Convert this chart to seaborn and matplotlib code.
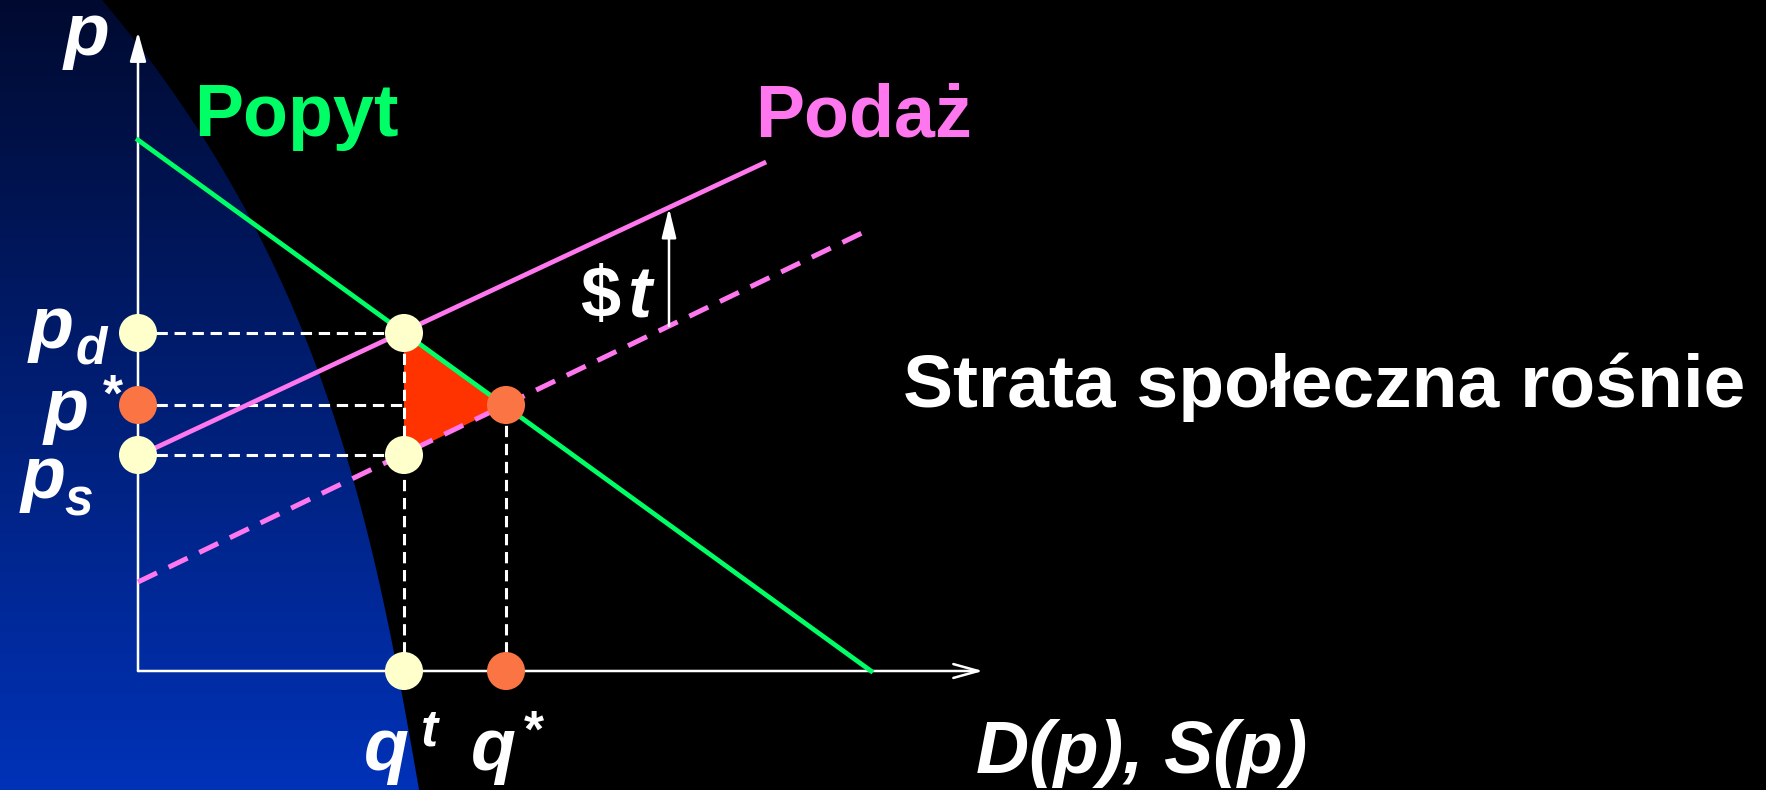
import matplotlib
matplotlib.use("Agg")
import matplotlib.pyplot as plt
from matplotlib.colors import LinearSegmentedColormap
from matplotlib.patches import Polygon
import seaborn as sns
import numpy as np

# dane (jednostki umowne: 1 = 100 px)
demand_q = [0, 7.33]
demand_p = [5.31, 0]
supply_q = [0, 6.26]          # podaz z podatkiem (linia ciagla)
supply_p = [2.15, 5.08]
supply0_q = [0, 7.24]         # podaz bez podatku (linia przerywana)
supply0_p = [0.89, 4.38]

q_t, q_star = 2.66, 3.68
p_d, p_star, p_s = 3.38, 2.66, 2.16
tax_q = 5.31
tax_from, tax_to = 3.45, 4.63

GREEN = "#00ff66"
PINK = "#ff77ee"
CREAM = "#ffffcc"
ORANGE = "#fa7444"
RED = "#ff3300"

plt.rcParams['font.family'] = ['Liberation Sans', 'DejaVu Sans']

fig = plt.figure(figsize=(17.66, 7.90), dpi=100)
fig.patch.set_facecolor("black")

# tlo - niebieski gradient po lewej
bg = fig.add_axes([0, 0, 1, 1])
bg.set_xlim(0, 1766)
bg.set_ylim(790, 0)
bg.axis("off")
grad = np.linspace(0, 1, 256).reshape(-1, 1)
cmap = LinearSegmentedColormap.from_list("bl", ["#000a30", "#0032b8"])
im = bg.imshow(grad, extent=[0, 1766, 790, 0], aspect="auto", cmap=cmap)
by = np.array([0, 83, 150, 233, 317, 400, 500, 671, 790])
bx = np.array([104, 161, 214, 260, 295, 329, 358, 398, 419])
coef = np.polyfit(by, bx, 3)
yy = np.linspace(0, 790, 200)
xx = np.polyval(coef, yy)
poly = Polygon([(0, 0)] + list(zip(xx, yy)) + [(0, 790)], closed=True,
               transform=bg.transData, facecolor="none", edgecolor="none")
bg.add_patch(poly)
im.set_clip_path(poly)

# wykres
ax = fig.add_axes([0, 0, 1, 1])
ax.patch.set_alpha(0)
ax.set_xlim(-1.38, 16.28)
ax.set_ylim(-1.19, 6.71)
ax.axis("off")

# osie ze strzalkami
ax.annotate("", xy=(0, 6.39), xytext=(0, 0),
            arrowprops=dict(arrowstyle="-|>,head_length=0.9,head_width=0.25",
                            color="white", lw=1.8, mutation_scale=20, shrinkA=0, shrinkB=0), zorder=1)
ax.annotate("", xy=(8.45, 0), xytext=(0, 0),
            arrowprops=dict(arrowstyle="->,head_length=0.9,head_width=0.25",
                            color="white", lw=1.8, mutation_scale=20, shrinkA=0, shrinkB=0), zorder=1)

# strata spoleczna (trojkat)
ax.fill([q_t, q_star, q_t], [p_d, p_star, p_s], color=RED, lw=0, zorder=2)

# linie pomocnicze
dash_w = dict(color="white", lw=2.2, linestyle=(0, (3.7, 2.2)), zorder=3)
for p in [p_d, p_star, p_s]:
    ax.plot([0, q_t], [p, p], **dash_w)
ax.plot([q_t, q_t], [0, p_d], **dash_w)
ax.plot([q_star, q_star], [0, p_star], **dash_w)

# popyt i podaz
sns.lineplot(x=supply0_q, y=supply0_p, ax=ax, color=PINK, lw=3.6,
             linestyle=(0, (4.2, 2.6)), zorder=3)
sns.lineplot(x=supply_q, y=supply_p, ax=ax, color=PINK, lw=3.4, zorder=4)
sns.lineplot(x=demand_q, y=demand_p, ax=ax, color=GREEN, lw=3.4, zorder=4)

# podatek $t
ax.annotate("", xy=(tax_q, tax_to), xytext=(tax_q, tax_from),
            arrowprops=dict(arrowstyle="-|>,head_length=0.9,head_width=0.22",
                            color="white", lw=1.8, mutation_scale=20, shrinkA=0, shrinkB=0), zorder=4)

# punkty
sns.scatterplot(x=[0, q_t, 0, q_t, q_t], y=[p_d, p_d, p_s, p_s, 0], ax=ax, s=750,
                color=CREAM, edgecolor="none", zorder=6, legend=False)
sns.scatterplot(x=[0, q_star, q_star], y=[p_star, p_star, 0], ax=ax, s=750,
                color=ORANGE, edgecolor="none", zorder=6, legend=False)

# teksty
big = dict(fontsize=53, fontweight="bold", va="baseline", ha="left")
small = dict(fontsize=37, fontweight="bold", va="baseline", ha="left")
ax.text(0.56, 5.35, "Popyt", color=GREEN, **big)
ax.text(6.17, 5.35, "Podaż", color=PINK, **big)
ax.text(7.65, 2.64, "Strata społeczna rośnie", color="white",
        fontsize=54, fontweight="bold", va="baseline", ha="left")
ax.text(4.42, 3.54, r"\$", color="white", fontsize=52, fontweight="bold", va="baseline")
ax.text(4.90, 3.54, "t", color="white", fontsize=52, fontweight="bold",
        fontstyle="italic", va="baseline")
ax.text(8.38, -1.02, "D(p), S(p)", color="white", fontstyle="italic", **big)
ax.text(-0.74, 6.16, "p", color="white", fontstyle="italic", fontsize=54,
        fontweight="bold", va="baseline")

ax.text(2.26, -0.99, "q", color="white", fontstyle="italic", **big)
ax.text(2.83, -0.74, "t", color="white", fontstyle="italic", **small)
ax.text(3.33, -0.99, "q", color="white", fontstyle="italic", **big)
ax.text(3.86, -0.76, "*", color="white", **small)

ax.text(-1.09, 3.23, "p", color="white", fontstyle="italic", **big)
ax.text(-0.62, 3.08, "d", color="white", fontstyle="italic", **small)
ax.text(-0.94, 2.41, "p", color="white", fontstyle="italic", **big)
ax.text(-0.35, 2.60, "*", color="white", **small)
ax.text(-1.17, 1.73, "p", color="white", fontstyle="italic", **big)
ax.text(-0.74, 1.56, "s", color="white", fontstyle="italic", **small)

fig.savefig("out.png", dpi=100, facecolor="black")
